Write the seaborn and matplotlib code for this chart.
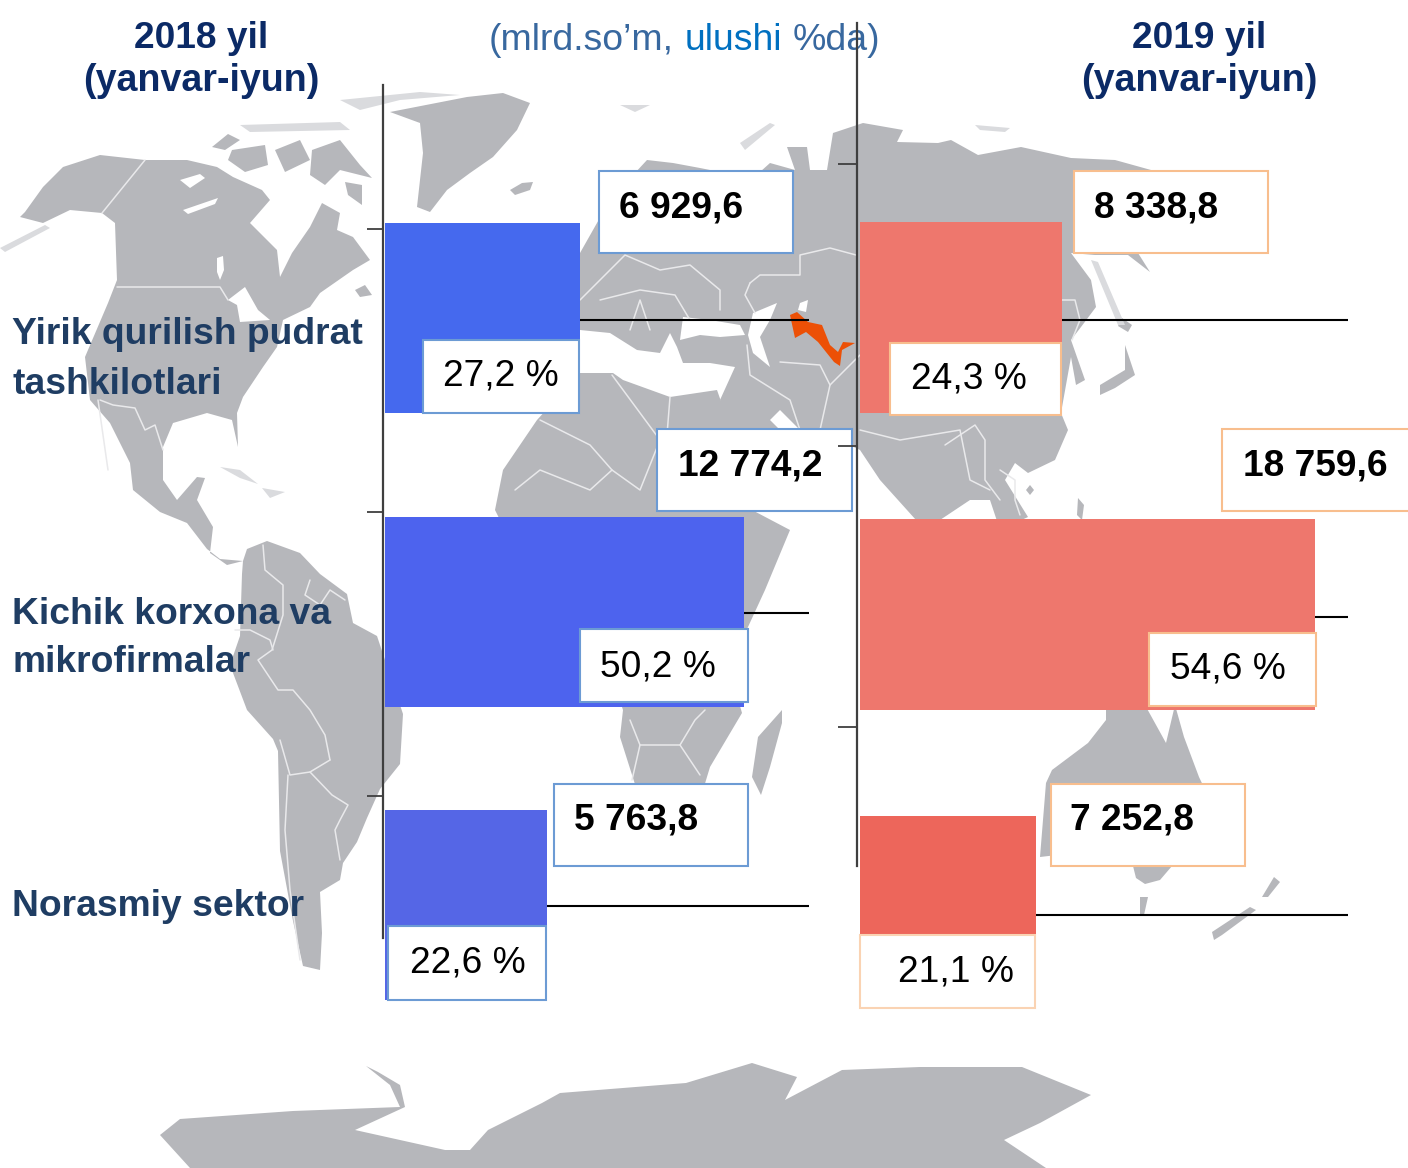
import matplotlib
matplotlib.use("Agg")
import matplotlib.pyplot as plt
import seaborn as sns
from matplotlib.patches import Polygon, Rectangle

# ---------- data ----------
categories = ["Yirik qurilish pudrat\ntashkilotlari", "Kichik korxona va\nmikrofirmalar", "Norasmiy sektor"]
values_2018 = [6929.6, 12774.2, 5763.8]
values_2019 = [8338.8, 18759.6, 7252.8]
shares_2018 = [27.2, 50.2, 22.6]
shares_2019 = [24.3, 54.6, 21.1]
colors_2018 = ["#4569EE", "#4D63EE", "#5566E6"]
colors_2019 = ["#EE776D", "#EE776D", "#ED665B"]

W, H = 1408, 1168
sns.set_theme(style="white")
plt.rcParams["font.family"] = ["Liberation Sans", "DejaVu Sans"]
FS = 26.7


def fmt_val(v):
    s = f"{v:,.1f}".replace(",", " ").replace(".", ",")
    return s


def fmt_share(v):
    return f"{v:.1f}".replace(".", ",") + " %"


fig = plt.figure(figsize=(W / 100, H / 100), dpi=100, facecolor="white")


def px_axes(l, t, r, b, **kw):
    return fig.add_axes([l / W, 1 - b / H, (r - l) / W, (b - t) / H], **kw)


# ---------- decorative world map (background picture, in pixel space) ----------
ax_map = px_axes(0, 0, W, H, zorder=0)
ax_map.set_xlim(0, W)
ax_map.set_ylim(H, 0)
ax_map.axis("off")
GRAY = "#B6B7BB"
FAINT = "#DADBDE"

land = [
    # North + Central America
    [(20, 217), (25, 212), (43, 187), (63, 167), (100, 155), (145, 160), (187, 160), (217, 167), (233, 177),
     (262, 190), (270, 200), (250, 223), (277, 250), (280, 277), (292, 253), (310, 227), (322, 203), (340, 213),
     (337, 230), (353, 237), (370, 260), (353, 270), (320, 293), (310, 307), (283, 320), (277, 347), (263, 367),
     (243, 397), (237, 413), (238, 447), (232, 420), (207, 413), (173, 423), (163, 447), (163, 480), (177, 500),
     (197, 477), (205, 478), (197, 500), (213, 527), (210, 553), (227, 565), (243, 561), (220, 559), (207, 549),
     (187, 523), (160, 512), (133, 490), (130, 463), (110, 423), (90, 400), (85, 357), (108, 303), (117, 280),
     (115, 223), (102, 213), (70, 210), (43, 223)],
    # Arctic islands
    [(212, 147), (228, 134), (240, 140), (225, 150)],
    [(232, 150), (265, 145), (268, 165), (245, 172), (228, 160)],
    [(275, 150), (300, 140), (310, 160), (285, 172)],
    [(312, 150), (340, 140), (360, 165), (372, 178), (340, 170), (325, 185), (310, 175)],
    [(345, 182), (362, 185), (362, 205), (348, 195)],
    [(355, 290), (365, 285), (372, 295), (360, 297)],
    # Greenland
    [(390, 112), (467, 97), (503, 93), (530, 103), (517, 130), (493, 157), (470, 173), (447, 190), (430, 212),
     (417, 207), (423, 153), (420, 123)],
    # Iceland
    [(510, 190), (522, 183), (533, 182), (530, 190), (515, 195)],
    # Eurasia
    [(580, 253), (610, 200), (647, 160), (673, 163), (700, 168), (720, 172), (760, 172), (770, 163), (795, 170),
     (787, 147), (807, 147), (810, 170),
     (827, 170), (833, 133), (863, 123), (903, 130), (897, 142), (938, 143), (951, 140), (978, 155), (1021, 147),
     (1071, 158), (1115, 160), (1151, 170), (1160, 178), (1150, 200), (1120, 250), (1138, 253), (1150, 272),
     (1128, 255), (1095, 255), (1071, 253), (1091, 280), (1096, 307), (1081, 327), (1071, 340), (1085, 380),
     (1076, 385), (1071, 357), (1061, 413), (1068, 430), (1055, 460), (1028, 473), (1015, 463), (1005, 480),
     (1028, 517), (1000, 530), (990, 500), (970, 500), (925, 530), (880, 480), (860, 450), (823, 432), (800, 430),
     (780, 410), (770, 420), (790, 440), (790, 470), (740, 470), (720, 400), (735, 367), (710, 363), (683, 363),
     (677, 347), (670, 333), (660, 353), (637, 350), (610, 333), (580, 330)],
    # Africa
    [(503, 470), (537, 420), (580, 373), (613, 373), (623, 380), (670, 397), (717, 390), (745, 470), (752, 510),
     (790, 530), (765, 590), (742, 640), (740, 706), (742, 713), (710, 767), (700, 800), (640, 800), (620, 737),
     (623, 710), (600, 640), (560, 600), (520, 560), (495, 510)],
    # Madagascar
    [(782, 710), (782, 723), (770, 767), (761, 795), (752, 777), (758, 737)],
    # South America
    [(243, 561), (247, 549), (267, 541), (300, 553), (320, 574), (347, 594), (353, 623), (377, 636), (403, 714),
     (400, 764), (380, 789), (367, 818), (357, 842), (343, 863), (340, 880), (320, 892), (322, 933), (320, 970),
     (303, 966), (293, 921), (280, 851), (278, 751), (273, 739), (247, 710), (230, 665), (240, 636), (242, 574)],
    # Japan, Sakhalin, Taiwan, Philippines
    [(1125, 345), (1135, 375), (1115, 388), (1100, 395), (1100, 385), (1125, 370)],
    [(1122, 318), (1132, 325), (1128, 332), (1118, 326)],
    [(1030, 485), (1034, 490), (1030, 495), (1026, 490)],
    [(1078, 498), (1084, 505), (1082, 520), (1077, 515)],
    # Australia + Tasmania + New Zealand
    [(1106, 705), (1145, 705), (1166, 743), (1175, 705), (1184, 737), (1199, 777), (1210, 800), (1200, 866),
     (1133, 866), (1100, 850), (1040, 857), (1046, 783), (1052, 770), (1088, 743), (1106, 720)],
    [(1133, 866), (1172, 866), (1160, 880), (1145, 884), (1136, 878)],
    [(1140, 897), (1148, 897), (1144, 915), (1140, 915)],
    [(1274, 877), (1280, 882), (1268, 897), (1262, 897)],
    [(1250, 907), (1256, 910), (1222, 935), (1214, 940), (1212, 932)],
    # Antarctica
    [(190, 1168), (160, 1135), (180, 1119), (293, 1111), (400, 1107), (390, 1085), (366, 1066), (378, 1072),
     (400, 1085), (405, 1107), (355, 1130), (445, 1150), (470, 1150), (488, 1130), (542, 1103), (560, 1093),
     (686, 1083), (752, 1063), (797, 1077), (785, 1100), (842, 1070), (920, 1067), (1022, 1067), (1091, 1095),
     (1040, 1123), (1004, 1140), (1046, 1168)],
]
for p in land:
    ax_map.add_patch(Polygon(p, closed=True, fc=GRAY, ec="none", zorder=1))

faint = [
    [(0, 248), (45, 225), (50, 228), (5, 252)],
    [(340, 100), (420, 92), (460, 95), (400, 100), (360, 110)],
    [(240, 125), (340, 122), (350, 130), (250, 132)],
    [(620, 105), (650, 105), (635, 112)],
    [(740, 143), (770, 123), (775, 125), (745, 150)],
    [(220, 467), (240, 470), (258, 484), (240, 478)],
    [(262, 488), (285, 492), (270, 498)],
    [(1091, 260), (1098, 262), (1125, 325), (1118, 325)],
    [(975, 125), (1010, 128), (1005, 132), (980, 130)],
]
for p in faint:
    ax_map.add_patch(Polygon(p, closed=True, fc=FAINT, ec="none", zorder=1))

water = [
    # lakes and Hudson details
    [(180, 180), (200, 174), (205, 178), (190, 188)],
    [(183, 210), (218, 198), (215, 204), (188, 214)],
    [(217, 258), (223, 256), (224, 270), (220, 280), (217, 272)],
    [(228, 300), (245, 287), (258, 310), (270, 320), (240, 322), (237, 305)],
    # Black Sea, Caspian, Aral
    [(683, 317), (710, 320), (740, 325), (745, 335), (720, 337), (700, 335), (680, 340)],
    [(753, 313), (777, 303), (770, 320), (760, 337), (770, 367), (753, 353), (748, 335)],
    [(800, 303), (808, 300), (806, 312), (798, 310)],
]
for p in water:
    ax_map.add_patch(Polygon(p, closed=True, fc="white", ec="none", zorder=2))

# country borders
borders = [
    [(102, 213), (145, 160)],
    [(117, 287), (220, 287), (228, 300)],
    [(100, 400), (113, 405), (135, 408), (145, 430), (155, 425), (163, 450)],
    [(98, 400), (108, 470)],
    [(263, 545), (265, 570), (283, 585), (283, 615), (272, 650), (258, 660), (278, 690), (290, 690), (293, 690),
     (310, 710), (325, 735), (330, 760)],
    [(280, 740), (290, 775), (310, 772), (330, 760)],
    [(310, 772), (332, 795), (348, 805), (340, 820), (335, 830), (340, 860)],
    [(288, 775), (285, 830), (290, 890), (300, 960)],
    [(310, 580), (305, 595), (320, 605), (330, 590), (345, 600)],
    [(235, 630), (250, 630), (270, 640), (273, 650)],
    [(580, 300), (600, 280), (625, 255), (660, 270), (690, 265), (720, 290), (720, 310)],
    [(600, 300), (640, 290), (675, 295), (690, 320)],
    [(630, 330), (640, 300), (650, 330)],
    [(750, 283), (760, 275), (800, 275), (800, 255), (830, 248), (856, 255)],
    [(750, 283), (745, 295), (755, 313)],
    [(747, 345), (750, 375), (790, 400), (800, 430)],
    [(780, 362), (820, 365), (830, 385), (820, 430)],
    [(830, 385), (860, 355)],
    [(540, 420), (590, 445), (612, 470), (640, 490), (660, 440), (612, 375)],
    [(612, 470), (590, 490), (540, 470), (515, 490)],
    [(670, 397), (665, 460)],
    [(630, 720), (640, 745), (680, 745), (695, 720), (705, 710)],
    [(640, 745), (632, 780)],
    [(680, 745), (700, 775)],
    [(1061, 300), (1075, 300), (1080, 320), (1072, 340)],
    [(860, 430), (900, 440), (960, 430), (970, 480), (990, 490)],
    [(945, 445), (975, 425), (985, 440), (985, 480), (1000, 500)],
    [(1000, 470), (1015, 480), (1015, 500), (1020, 515)],
]
for b in borders:
    xs, ys = zip(*b)
    ax_map.plot(xs, ys, color="#E9E9EB", lw=1.1, zorder=3, solid_joinstyle="round")

# Uzbekistan
ax_map.add_patch(Polygon([(790, 315), (797, 312), (808, 322), (822, 325), (830, 345), (838, 352), (843, 342),
                          (855, 343), (842, 350), (840, 366), (834, 362), (818, 342), (806, 332), (795, 338)],
                         closed=True, fc="#EC5006", ec="none", zorder=4))


# ---------- spine axes ----------
def spine_axes(x, top, bottom, ticks, tick_len):
    a = px_axes(x - 1, top, x + 1, bottom, zorder=6, facecolor="none")
    a.set_xlim(0, 1)
    a.set_ylim(bottom, top)
    a.set_xticks([])
    for s in a.spines.values():
        s.set_visible(False)
    a.spines["left"].set_visible(True)
    a.spines["left"].set_color("#3F3F3F")
    a.spines["left"].set_linewidth(1.6)
    a.spines["left"].set_position(("axes", 0.5))
    a.set_yticks(ticks)
    a.set_yticklabels([])
    a.tick_params(axis="y", left=True, length=tick_len, width=1.3, color="#3F3F3F", direction="out")
    return a


spine_axes(383, 85, 938, [229, 512, 796], 11.5)
spine_axes(857, 23, 866, [164, 446, 727], 13.5)


# ---------- bars ----------
def bar_axes(x0, xend, scale, top, spacing, values, colors, width):
    a = px_axes(x0, top, xend, top + 3 * spacing, zorder=2, facecolor="none")
    sns.barplot(x=values, y=categories, hue=categories, palette=colors, legend=False, ax=a,
                width=width, saturation=1, orient="h", dodge=False, linewidth=0, edgecolor="none")
    a.set_xlim(0, (xend - x0) / scale)
    a.set_ylim(2.5, -0.5)
    a.axis("off")
    return a


SC_L = 0.02808
SC_R = 0.02425
bar_axes(385, 1100, SC_L, 318 - 146.75, 293.5, values_2018, colors_2018, 190 / 293.5)
bar_axes(860, W, SC_R, 318 - 148.4, 296.75, values_2019, colors_2019, 191 / 296.75)

# ---------- overlay ----------
ov = px_axes(0, 0, W, H, zorder=5, facecolor="none")
ov.set_xlim(0, W)
ov.set_ylim(H, 0)
ov.axis("off")

for v, y in zip(values_2018, [320, 613, 906]):
    ov.plot([385 + v * SC_L, 809], [y, y], color="black", lw=1.5, solid_capstyle="butt", zorder=1)
for v, y in zip(values_2019, [320, 617, 915]):
    ov.plot([860 + v * SC_R, 1348], [y, y], color="black", lw=1.5, solid_capstyle="butt", zorder=1)


def box(x0, y0, x1, y1, ec):
    ov.add_patch(Rectangle((x0, y0), x1 - x0, y1 - y0, fc="white", ec=ec, lw=1.5, zorder=2, clip_on=False))


BLUE_E = "#6C9BD4"
OR_E = "#F8BE8E"
OR_P = "#FAD3B3"
val_boxes_l = [(598.5, 171, 793, 253), (657, 429, 852, 511), (553.5, 784, 748, 866)]
val_boxes_r = [(1073.5, 171, 1268, 253), (1222, 429, 1420, 511), (1050.5, 784, 1245, 866)]
pct_boxes_l = [(423, 340, 579, 412.5), (579.5, 629, 748, 702), (388, 926, 546, 999.5)]
pct_boxes_r = [(890, 343, 1061, 415), (1149, 633, 1316, 706), (860, 935, 1035, 1008)]
val_text_l = [(619, 204), (678, 462), (574, 816)]
val_text_r = [(1094, 204), (1243, 462), (1070, 816)]
pct_text_l = [(443, 372), (600, 663), (410, 959)]
pct_text_r = [(911, 375), (1170, 665), (898, 968)]

for i in range(3):
    box(*val_boxes_l[i], BLUE_E)
    box(*pct_boxes_l[i], BLUE_E)
    box(*val_boxes_r[i], OR_E)
    box(*pct_boxes_r[i], OR_P if i == 2 else OR_E)
    ov.text(*val_text_l[i], fmt_val(values_2018[i]), fontsize=FS, fontweight="bold", color="black",
            va="center_baseline", ha="left", zorder=3)
    ov.text(*val_text_r[i], fmt_val(values_2019[i]), fontsize=FS, fontweight="bold", color="black",
            va="center_baseline", ha="left", zorder=3, clip_on=False)
    ov.text(*pct_text_l[i], fmt_share(shares_2018[i]), fontsize=FS, color="black",
            va="center_baseline", ha="left", zorder=3)
    ov.text(*pct_text_r[i], fmt_share(shares_2019[i]), fontsize=FS, color="black",
            va="center_baseline", ha="left", zorder=3)

# category labels
CAT = "#1F3D63"
for lines, ys in zip(categories, [(331, 381), (610, 659), (903,)]):
    for t, y in zip(lines.split("\n"), ys):
        ov.text(12.5, y, t, fontsize=26.85, fontweight="bold", color=CAT, va="center_baseline", ha="left", zorder=3)

# titles
TITLE = "#0B2A66"
for cx, year in [(201, "2018 yil"), (1199, "2019 yil")]:
    ov.text(cx, 34, year, fontsize=FS, fontweight="bold", color=TITLE, ha="center", va="center_baseline", zorder=3)
    ov.text(cx, 77, "(yanvar-iyun)", fontsize=27.1, fontweight="bold", color=TITLE, ha="center",
            va="center_baseline", zorder=3)

# unit subtitle in three colours
x = 489
fig.canvas.draw()
rend = fig.canvas.get_renderer()
for part, col in [("(mlrd.so’m,", "#38689F"), ("ulushi", "#0070C0"), ("%da)", "#38689F")]:
    t = ov.text(x, 36, part, fontsize=26.9, color=col, ha="left", va="center_baseline", zorder=3)
    x += t.get_window_extent(rend).width + 0.278 * 37.4

fig.savefig("out.png", dpi=100, facecolor="white")
